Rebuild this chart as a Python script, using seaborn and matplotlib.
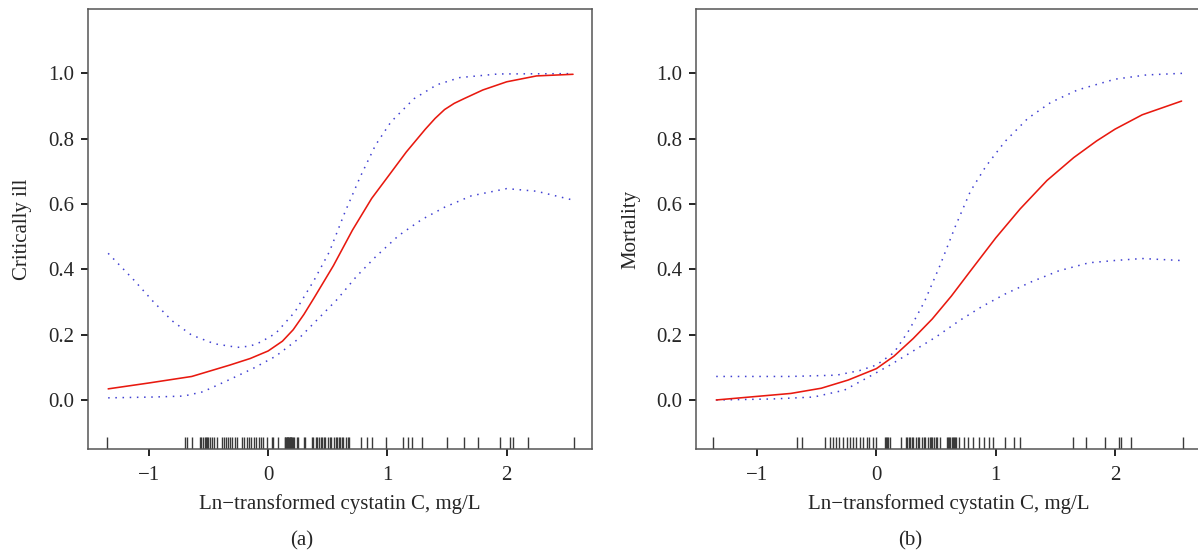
import numpy as np
import matplotlib
matplotlib.use('Agg')
import matplotlib.pyplot as plt
import pandas as pd
import seaborn as sns

# Panel (a): critically ill, fitted curve and 95% band
fit_a_x = [-1.341, -1.0, -0.64, -0.32, -0.15, 0.0, 0.12, 0.21, 0.30, 0.386, 0.547, 0.707, 0.868,
           1.003, 1.158, 1.318, 1.40, 1.479, 1.56, 1.64, 1.80, 2.0, 2.25, 2.556]
fit_a_y = [0.034, 0.052, 0.072, 0.107, 0.127, 0.150, 0.180, 0.215, 0.262, 0.313, 0.411, 0.52, 0.617,
           0.683, 0.759, 0.829, 0.862, 0.889, 0.908, 0.922, 0.949, 0.974, 0.992, 0.997]
up_a_x = [-1.341, -1.125, -0.965, -0.804, -0.643, -0.45, -0.257, -0.15, -0.064, 0.064, 0.225,
          0.386, 0.514, 0.643, 0.772, 0.9, 1.029, 1.222, 1.415, 1.608, 1.929, 2.556]
up_a_y = [0.449, 0.367, 0.302, 0.242, 0.199, 0.172, 0.161, 0.165, 0.177, 0.204, 0.27,
          0.367, 0.454, 0.574, 0.683, 0.78, 0.851, 0.922, 0.965, 0.987, 0.998, 0.999]
lo_a_x = [-1.341, -0.965, -0.707, -0.547, -0.32, -0.129, 0.064, 0.257, 0.418, 0.579, 0.74,
          0.9, 1.093, 1.286, 1.479, 1.704, 2.0, 2.25, 2.556]
lo_a_y = [0.0065, 0.009, 0.012, 0.025, 0.063, 0.096, 0.134, 0.188, 0.248, 0.308, 0.378,
          0.438, 0.503, 0.552, 0.59, 0.625, 0.647, 0.639, 0.612]

# Panel (b): mortality
fit_b_x = [-1.343, -1.0, -0.718, -0.462, -0.237, 0.0, 0.147, 0.308, 0.468, 0.628, 0.788, 1.0,
           1.205, 1.43, 1.654, 1.846, 2.0, 2.228, 2.558]
fit_b_y = [0.0, 0.011, 0.02, 0.036, 0.061, 0.096, 0.134, 0.188, 0.248, 0.318, 0.395, 0.496,
           0.585, 0.672, 0.742, 0.793, 0.829, 0.873, 0.915]
up_b_x = [-1.343, -0.718, -0.333, -0.141, 0.0, 0.147, 0.276, 0.404, 0.532, 0.66, 0.788, 0.917,
          1.077, 1.269, 1.462, 1.686, 2.0, 2.263, 2.567]
up_b_y = [0.072, 0.072, 0.076, 0.09, 0.107, 0.145, 0.215, 0.302, 0.411, 0.53, 0.639, 0.715,
          0.791, 0.862, 0.911, 0.949, 0.982, 0.995, 1.0]
lo_b_x = [-1.343, -0.878, -0.526, -0.269, -0.077, 0.115, 0.308, 0.5, 0.692, 0.885, 1.077,
          1.301, 1.526, 1.782, 2.0, 2.228, 2.551]
lo_b_y = [0.0, 0.003, 0.009, 0.03, 0.068, 0.107, 0.15, 0.193, 0.242, 0.286, 0.324,
          0.362, 0.395, 0.42, 0.427, 0.433, 0.427]

# Rug (observed ln cystatin C values)
rug_a = [-1.35, -0.70, -0.68, -0.64, -0.57, -0.56, -0.55, -0.53, -0.52, -0.51, -0.50, -0.49,
         -0.47, -0.45, -0.43, -0.39, -0.37, -0.35, -0.34, -0.32, -0.30, -0.28, -0.26, -0.22,
         -0.20, -0.18, -0.16, -0.14, -0.12, -0.10, -0.08, -0.06, -0.04, -0.01, 0.03, 0.04,
         0.08, 0.14, 0.145, 0.15, 0.155, 0.16, 0.165, 0.17, 0.175, 0.18, 0.185, 0.19, 0.195,
         0.20, 0.21, 0.22, 0.24, 0.25, 0.30, 0.31, 0.37, 0.38, 0.40, 0.41, 0.43, 0.44, 0.45,
         0.47, 0.48, 0.50, 0.52, 0.53, 0.55, 0.57, 0.58, 0.59, 0.60, 0.62, 0.63, 0.65, 0.67,
         0.68, 0.78, 0.83, 0.87, 0.99, 1.13, 1.17, 1.21, 1.29, 1.50, 1.64, 1.76, 1.94, 2.03,
         2.05, 2.18, 2.56]
rug_b = [-1.37, -0.67, -0.62, -0.43, -0.39, -0.36, -0.34, -0.31, -0.28, -0.25, -0.22, -0.20,
         -0.17, -0.14, -0.11, -0.08, -0.06, -0.03, 0.0, 0.07, 0.08, 0.09, 0.10, 0.11, 0.21,
         0.25, 0.26, 0.27, 0.28, 0.30, 0.31, 0.33, 0.35, 0.36, 0.38, 0.40, 0.41, 0.43, 0.45,
         0.46, 0.47, 0.48, 0.50, 0.51, 0.53, 0.59, 0.60, 0.61, 0.62, 0.63, 0.64, 0.65, 0.66,
         0.67, 0.69, 0.73, 0.77, 0.81, 0.86, 0.90, 0.94, 0.98, 1.08, 1.15, 1.20, 1.65, 1.76,
         1.92, 2.03, 2.05, 2.13, 2.57]

xticks = [-1, 0, 1, 2]
yticks = [0.0, 0.2, 0.4, 0.6, 0.8, 1.0]
xlabel = 'Ln\u2212transformed cystatin C, mg/L'

sns.set_style("ticks")
plt.rcParams['font.family'] = ['Liberation Serif', 'DejaVu Serif']
plt.rcParams['font.size'] = 15

fig = plt.figure(figsize=(11.98, 5.56), dpi=100)
ax1 = fig.add_axes([88 / 1198, 0.1919, 504 / 1198, 0.792])
ax2 = fig.add_axes([696.3 / 1198, 0.1919, 504 / 1198, 0.792])

dots = (0, (1, 3.7))
panels = [
    (ax1, fit_a_x, fit_a_y, up_a_x, up_a_y, lo_a_x, lo_a_y, rug_a, 'Critically ill'),
    (ax2, fit_b_x, fit_b_y, up_b_x, up_b_y, lo_b_x, lo_b_y, rug_b, 'Mortality'),
]

for ax, fx, fy, ux, uy, lx, ly, rug, ylab in panels:
    sns.lineplot(x=ux, y=uy, ax=ax, color='#4040d2', lw=1.1, linestyle=dots, sort=False, estimator=None)
    sns.lineplot(x=lx, y=ly, ax=ax, color='#4040d2', lw=1.1, linestyle=dots, sort=False, estimator=None)
    sns.lineplot(x=fx, y=fy, ax=ax, color='#e8190f', lw=1.15, sort=False, estimator=None,
                 solid_joinstyle='round')
    sns.rugplot(x=rug, ax=ax, height=0.029, color='#3a3a3a', lw=0.9, expand_margins=False)

    ax.set_xlim(-1.51, 2.715)
    ax.set_ylim(-0.151, 1.197)
    ax.set_xticks(xticks)
    ax.set_yticks(yticks)
    ax.set_yticklabels(['%.1f' % v for v in yticks])
    ax.tick_params(direction='out', length=5, width=1.2, color='black', labelsize=15)
    ax.tick_params(axis='x', pad=7)
    ax.tick_params(axis='y', pad=5)
    for s in ax.spines.values():
        s.set_color('#555555')
        s.set_linewidth(1.1)
        s.set_visible(True)

    ax.set_xlabel(xlabel, fontsize=15)
    ax.set_ylabel(ylab, fontsize=15)
    ax.xaxis.label.set_va('center')
    ax.yaxis.label.set_va('center')
    ax.xaxis.set_label_coords(0.5, -0.124)
    ax.yaxis.set_label_coords(-0.129, 0.5)

fig.text(302 / 1198, 1 - 541 / 556, '(a)', ha='center', va='center', fontsize=15)
fig.text(910 / 1198, 1 - 541 / 556, '(b)', ha='center', va='center', fontsize=15)

fig.savefig('out.png', dpi=100)
